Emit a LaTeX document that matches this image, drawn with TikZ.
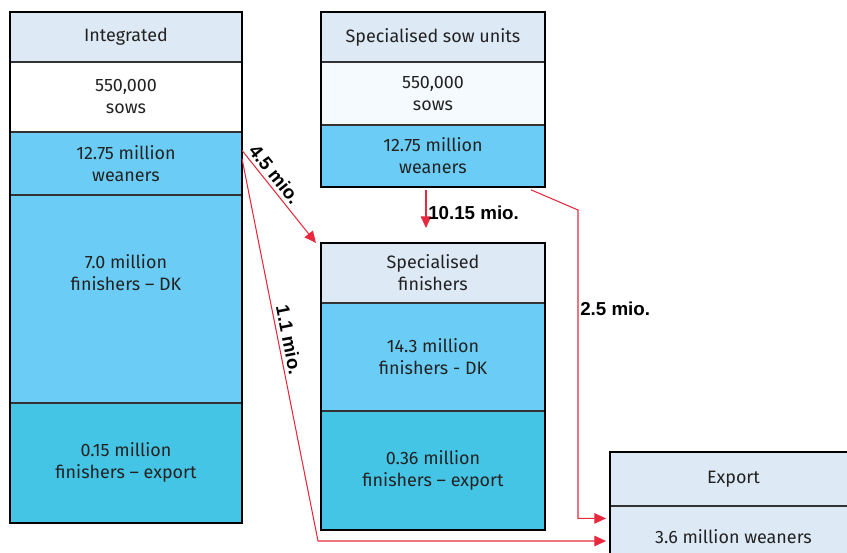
\documentclass[tikz,border=0pt]{standalone}
\usepackage{fontspec}
\setmainfont{Fira Sans}
\newfontfamily\labelfont{Liberation Sans}
\usetikzlibrary{arrows.meta,calc}
\definecolor{headblue}{HTML}{DDE9F5}
\definecolor{weanblue}{HTML}{6BCDF5}
\definecolor{exportblue}{HTML}{45C5E5}
\definecolor{paleblue}{HTML}{F5FAFE}
\definecolor{flowred}{HTML}{E8283C}
\definecolor{inktext}{HTML}{222222}
\tikzstyle{cell} = [rectangle, draw=black!80, line width=0.8pt, inner sep=0pt, align=center, text=inktext, font=\fontsize{15.3}{18.7}\selectfont]
\tikzstyle{frame} = [draw=black, line width=2pt]
\tikzstyle{flow} = [draw=flowred, line width=0.9pt, -{Triangle[length=10pt,width=9pt]}]
\tikzstyle{flowlabel} = [font=\labelfont\bfseries\fontsize{16}{19}\selectfont, text=black, inner sep=1.5pt]

\begin{document}
\begin{tikzpicture}[x=0.03cm, y=-0.03cm]
        \useasboundingbox (0,0) rectangle (847,552);

        %% integrated
        \node (I1) [cell, fill=headblue, anchor=north west, minimum width=6.93cm, minimum height=1.47cm] at (10,12) {Integrated};
        \node (I2) [cell, fill=white, anchor=north west, minimum width=6.93cm, minimum height=2.07cm] at (I1.south west) {550,000\\sows};
        \node (I3) [cell, fill=weanblue, anchor=north west, minimum width=6.93cm, minimum height=1.86cm] at (I2.south west) {12.75 million\\weaners};
        \node (I4) [cell, fill=weanblue, anchor=north west, minimum width=6.93cm, minimum height=6.21cm] at (I3.south west) {7.0 million\\finishers -- DK\\[0.9cm]};
        \node (I5) [cell, fill=exportblue, anchor=north west, minimum width=6.93cm, minimum height=3.57cm] at (I4.south west) {0.15 million\\finishers -- export};
        \draw[frame] (I1.north west) rectangle (I5.south east);

        %% specialised sow units
        \node (S1) [cell, fill=headblue, anchor=north west, minimum width=6.69cm, minimum height=1.47cm] at (321,12) {Specialised sow units};
        \node (S2) [cell, fill=paleblue, anchor=north west, minimum width=6.69cm, minimum height=1.86cm] at (S1.south west) {550,000\\sows};
        \node (S3) [cell, fill=weanblue, anchor=north west, minimum width=6.69cm, minimum height=1.83cm] at (S2.south west) {12.75 million\\weaners};
        \draw[frame] (S1.north west) rectangle (S3.south east);

        %% specialised finishers
        \node (F1) [cell, fill=headblue, anchor=north west, minimum width=6.69cm, minimum height=1.77cm] at (321,243) {Specialised\\finishers};
        \node (F2) [cell, fill=weanblue, anchor=north west, minimum width=6.69cm, minimum height=3.21cm] at (F1.south west) {14.3 million\\finishers - DK};
        \node (F3) [cell, fill=exportblue, anchor=north west, minimum width=6.69cm, minimum height=3.54cm] at (F2.south west) {0.36 million\\finishers -- export};
        \draw[frame] (F1.north west) rectangle (F3.south east);

        %% export
        \node (X1) [cell, fill=headblue, anchor=north west, minimum width=7.38cm, minimum height=1.59cm] at (610,452) {Export};
        \node (X2) [cell, fill=headblue, anchor=north west, minimum width=7.38cm, minimum height=1.8cm] at (X1.south west) {3.6 million weaners};
        \draw[frame] (X1.north west) rectangle (X2.south east);

        %% flows
        \coordinate (c11) at (318,541);
        \coordinate (x11) at ($(X2.west |- c11)+(-4,0)$);
        \coordinate (c25) at (578,210);
        \coordinate (x25) at ($(X2.west)+(-4,-18)$);

        \draw[flow] ($(I3.east)+(0,-13)$) -- node[flowlabel, sloped, above, pos=0.33, inner sep=3pt]{4.5 mio.} ($(F1.north west)+(-5,0)$);
        \draw[flow] ($(I3.east)+(0,-5)$) -- node[flowlabel, sloped, above, pos=0.48, inner sep=3pt]{1.1 mio.} (c11) -- (x11);
        \draw[flow] ($(S3.south)+(-7,3)$) -- node[flowlabel, right, pos=0.6]{10.15 mio.} ($(F1.north)+(-7,-15)$);
        \draw[flow] ($(S3.south east)+(-14,3)$) -- (c25) -- node[flowlabel, right, pos=0.32]{2.5 mio.} (c25 |- x25) -- (x25);

\end{tikzpicture}
\end{document}
